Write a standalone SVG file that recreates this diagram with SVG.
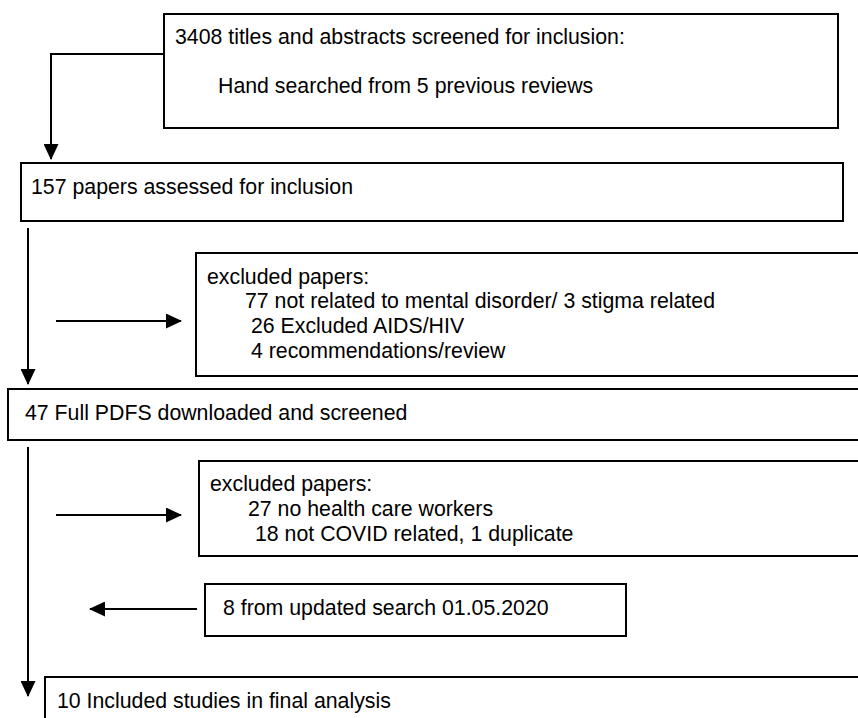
<svg xmlns="http://www.w3.org/2000/svg" width="858" height="718" viewBox="0 0 858 718">
<style>
.box{fill:#fff;stroke:#000;stroke-width:2}
.t{font-family:"Liberation Sans",Arial,sans-serif;font-size:21.3px;fill:#000}
.c{fill:none;stroke:#000;stroke-width:2}
</style>
<defs>
<marker id="ah" markerUnits="userSpaceOnUse" markerWidth="16" markerHeight="15" refX="15" refY="7.5" orient="auto">
<path d="M0,0 L16,7.5 L0,15 z" fill="#000"/>
</marker>
</defs>
<rect width="858" height="718" fill="#fff"/>
<g id="connectors">
<path class="c" d="M164,54 H51 V159" marker-end="url(#ah)"/>
<path class="c" d="M28,228 V384" marker-end="url(#ah)"/>
<path class="c" d="M56,321 H181" marker-end="url(#ah)"/>
<path class="c" d="M28,447 V696" marker-end="url(#ah)"/>
<path class="c" d="M56,515 H181" marker-end="url(#ah)"/>
<path class="c" d="M197,609 H90" marker-end="url(#ah)"/>
</g>
<g id="n1">
<rect class="box" x="164" y="14" width="674" height="114"/>
<text class="t" x="175" y="44">3408 titles and abstracts screened for inclusion:</text>
<text class="t" x="218" y="93">Hand searched from 5 previous reviews</text>
</g>
<g id="n2">
<rect class="box" x="21" y="163" width="822" height="58"/>
<text class="t" x="31" y="194">157 papers assessed for inclusion</text>
</g>
<g id="n3">
<rect class="box" x="196" y="253" width="670" height="123"/>
<text class="t" x="207" y="284">excluded papers:</text>
<text class="t" x="245" y="308">77 not related to mental disorder/ 3 stigma related</text>
<text class="t" x="251" y="333">26 Excluded AIDS/HIV</text>
<text class="t" x="251" y="358">4 recommendations/review</text>
</g>
<g id="n4">
<rect class="box" x="8" y="389" width="860" height="51"/>
<text class="t" x="25" y="420">47 Full PDFS downloaded and screened</text>
</g>
<g id="n5">
<rect class="box" x="199" y="461" width="670" height="95"/>
<text class="t" x="210" y="491">excluded papers:</text>
<text class="t" x="248" y="516">27 no health care workers</text>
<text class="t" x="255" y="541">18 not COVID related, 1 duplicate</text>
</g>
<g id="n6">
<rect class="box" x="205" y="584" width="421" height="52"/>
<text class="t" x="223" y="615">8 from updated search 01.05.2020</text>
</g>
<g id="n7">
<rect class="box" x="45" y="677" width="830" height="60"/>
<text class="t" x="57" y="708">10 Included studies in final analysis</text>
</g>
</svg>
